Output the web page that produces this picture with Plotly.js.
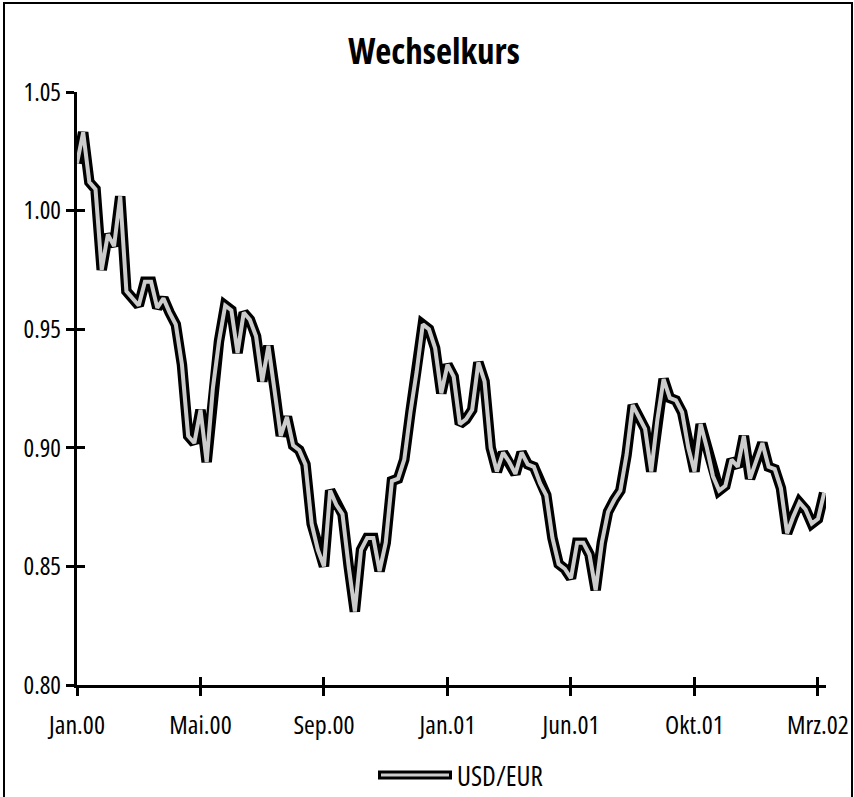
<!DOCTYPE html>
<html>
<head>
<meta charset="utf-8">
<script src="https://cdn.plot.ly/plotly-3.0.1.min.js"></script>
<style>
html,body{margin:0;padding:0;background:#fff;}
svg text{font-stretch:condensed !important;}
</style>
</head>
<body>
<div id="chart" style="width:854px;height:797px;"></div>
<script>
// Data: USD/EUR exchange rate, sampled at regular steps along the category axis
const usdEur = [
  1.020, 1.033, 1.012, 1.009, 0.975, 0.990, 0.985, 1.006, 0.966, 0.963,
  0.960, 0.970, 0.970, 0.959, 0.963, 0.957, 0.952, 0.935, 0.905, 0.902,
  0.916, 0.894, 0.925, 0.945, 0.960, 0.958, 0.940, 0.957, 0.954, 0.947,
  0.928, 0.943, 0.925, 0.905, 0.913, 0.901, 0.899, 0.893, 0.868, 0.857,
  0.850, 0.882, 0.876, 0.872, 0.850, 0.831, 0.857, 0.862, 0.862, 0.848,
  0.860, 0.886, 0.887, 0.895, 0.915, 0.932, 0.952, 0.950, 0.942, 0.923,
  0.935, 0.930, 0.910, 0.912, 0.916, 0.936, 0.928, 0.900, 0.890, 0.898,
  0.894, 0.889, 0.898, 0.893, 0.892, 0.885, 0.880, 0.862, 0.851, 0.849,
  0.845, 0.860, 0.860, 0.855, 0.840, 0.860, 0.873, 0.878, 0.882, 0.897,
  0.918, 0.913, 0.908, 0.890, 0.912, 0.929, 0.921, 0.920, 0.915, 0.900,
  0.890, 0.910, 0.900, 0.888, 0.882, 0.884, 0.895, 0.892, 0.905, 0.887,
  0.895, 0.902, 0.892, 0.891, 0.883, 0.864, 0.871, 0.877, 0.874, 0.868,
  0.870, 0.881
];
const stepIndex = usdEur.map((v, i) => i);
const tickPositions = [0, 20, 40, 60, 80, 100, 120];
const tickLabels = ["Jan.00", "Mai.00", "Sep.00", "Jan.01", "Jun.01", "Okt.01", "Mrz.02"];
const yTicks = [0.80, 0.85, 0.90, 0.95, 1.00, 1.05];
const seriesName = "USD/EUR";

const FONT = "Open Sans, sans-serif";
const L = 77, R = 28, T = 92, B = 112, W = 854, H = 797;
const pw = W - L - R, ph = H - T - B;
const px = v => (v - L) / pw;
const py = v => (H - B - v) / ph;

const traces = [
  {x: stepIndex, y: usdEur, type: 'scatter', mode: 'lines', name: seriesName,
   line: {color: '#000', width: 10.5, shape: 'linear'}, showlegend: false, hoverinfo: 'skip'},
  {x: stepIndex, y: usdEur, type: 'scatter', mode: 'lines', name: seriesName,
   xaxis: 'x2', yaxis: 'y2',
   line: {color: '#cccccc', width: 4, shape: 'linear'}, showlegend: false}
];

const xRange = [0, 121.3];
const yRange = [0.80, 1.05];
const common = {showgrid: false, zeroline: false, ticklen: 8, tickwidth: 3, tickcolor: '#000'};

const layout = {
  width: W, height: H,
  margin: {l: L, r: R, t: T, b: B, pad: 0},
  paper_bgcolor: '#fff', plot_bgcolor: '#fff',
  showlegend: false,
  title: {text: '<b>Wechselkurs</b>', x: 434 / W, xanchor: 'center', y: 1 - 52 / H, yanchor: 'middle',
          font: {family: FONT, size: 35, color: '#000'}},
  xaxis: Object.assign({}, common, {
    range: xRange, tickmode: 'array', tickvals: tickPositions, ticktext: tickLabels,
    ticks: 'outside', showline: true, linecolor: '#000', linewidth: 3,
    ticklabeloverflow: 'allow',
    tickfont: {family: FONT, size: 26, color: '#000'}, ticklabelstandoff: 7
  }),
  yaxis: Object.assign({}, common, {
    range: yRange, tickmode: 'array', tickvals: yTicks, tickformat: '.2f',
    ticks: 'outside', showline: true, linecolor: '#000', linewidth: 3,
    tickfont: {family: FONT, size: 25, color: '#000'}, ticklabelstandoff: 0
  }),
  xaxis2: Object.assign({}, common, {
    range: xRange, overlaying: 'x', anchor: 'y2', tickmode: 'array', tickvals: tickPositions,
    ticks: 'inside', showticklabels: false, showline: false
  }),
  yaxis2: Object.assign({}, common, {
    range: yRange, overlaying: 'y', anchor: 'x2', tickmode: 'array', tickvals: yTicks,
    ticks: 'inside', showticklabels: false, showline: false
  }),
  shapes: [
    {type: 'rect', xref: 'paper', yref: 'paper', x0: px(4), x1: px(852), y0: py(3), y1: py(800),
     line: {color: '#000', width: 2}, fillcolor: 'rgba(0,0,0,0)'},
    {type: 'line', xref: 'paper', yref: 'paper', x0: px(378), x1: px(452), y0: py(775), y1: py(775),
     line: {color: '#000', width: 9}},
    {type: 'line', xref: 'paper', yref: 'paper', x0: px(381), x1: px(449), y0: py(775), y1: py(775),
     line: {color: '#cccccc', width: 3}}
  ],
  annotations: [
    {text: seriesName, xref: 'paper', yref: 'paper', x: px(455), y: py(775), xanchor: 'left', yanchor: 'middle',
     showarrow: false, font: {family: FONT, size: 27, color: '#000'}}
  ]
};

Plotly.newPlot('chart', traces, layout, {displayModeBar: false, staticPlot: true});
</script>
</body>
</html>
